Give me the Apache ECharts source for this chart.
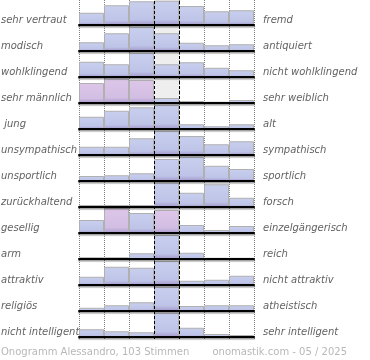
<!DOCTYPE html>
<html><head><meta charset="utf-8">
<script src="https://cdn.jsdelivr.net/npm/echarts@6/dist/echarts.min.js"></script>
<style>html,body{margin:0;padding:0;background:#fff}#c{width:370px;height:360px}</style>
</head><body><div id="c"></div>
<script>
// ---- data ----
const columns = ['1', '2', '3', '4', '5', '6', '7'];
const leftLabels = ['sehr vertraut', 'modisch', 'wohlklingend', 'sehr männlich', ' jung', 'unsympathisch', 'unsportlich', 'zurückhaltend', 'gesellig', 'arm', 'attraktiv', 'religiös', 'nicht intelligent'];
const rightLabels = ['fremd', 'antiquiert', 'nicht wohlklingend', 'sehr weiblich', 'alt', 'sympathisch', 'sportlich', 'forsch', 'einzelgängerisch', 'reich', 'nicht attraktiv', 'atheistisch', 'sehr intelligent'];
const r01 = [49, 79, 95, 97, 76, 55, 59];
const r02 = [35, 71, 97, 71, 33, 23, 27];
const r03 = [61, 51, 97, 51, 59, 37, 27];
const r04 = [80, 98, 92, 20, 8, 5, 12];
const r05 = [49, 73, 87, 97, 19, 11, 19];
const r06 = [33, 33, 67, 97, 76, 43, 55];
const r07 = [20, 23, 31, 88, 97, 61, 48];
const r08 = [8, 8, 8, 98, 57, 91, 37];
const r09 = [52, 100, 80, 92, 32, 12, 28];
const r10 = [7, 7, 23, 96, 25, 5, 5];
const r11 = [33, 73, 69, 96, 17, 21, 37];
const r12 = [13, 23, 35, 97, 20, 23, 23];
const r13 = [31, 23, 19, 97, 37, 12, 8];
const footerLeft = 'Onogramm Alessandro, 103 Stimmen';
const footerRight = 'onomastik.com - 05 / 2025';

// ---- styling / layout ----
const rows = [r01, r02, r03, r04, r05, r06, r07, r08, r09, r10, r11, r12, r13];
const pinkCells = {3: [0, 1, 2], 8: [1, 3]};
const shadedRows = [0, 1, 2, 3];
const PITCH = 26, ROWH = 25, LEFT = 79, W = 175;

function grad(top, mid, bottom) {
  return new echarts.graphic.LinearGradient(0, 0, 0, 1, [
    {offset: 0, color: top}, {offset: 0.78, color: mid}, {offset: 1, color: bottom}
  ]);
}
const blueFill = grad('#c8cfee', '#bec4e7', '#a396ca');
const pinkFill = grad('#ddc6e8', '#d2bee3', '#a99acb');

const grid = [], xAxis = [], yAxis = [], series = [], graphic = [];
rows.forEach((vals, i) => {
  grid.push({left: LEFT, top: i * PITCH, width: W, height: ROWH});
  xAxis.push({
    type: 'category', gridIndex: i, data: columns, z: 6,
    axisLine: {lineStyle: {color: '#000', width: 2, shadowColor: 'rgba(0,0,0,0.4)', shadowOffsetY: 1.5, shadowBlur: 1}},
    axisTick: {show: false}, axisLabel: {show: false}, splitLine: {show: false}
  });
  yAxis.push({type: 'value', gridIndex: i, min: 0, max: 100, show: false});
  if (shadedRows.includes(i)) {
    series.push({
      type: 'bar', xAxisIndex: i, yAxisIndex: i, silent: true, z: 1,
      barCategoryGap: '0%', barGap: '-100%',
      itemStyle: {color: '#eeeeee'},
      data: columns.map((c, j) => j === 3 ? 100 : null)
    });
  }
  const pk = pinkCells[i] || [];
  series.push({
    type: 'bar', xAxisIndex: i, yAxisIndex: i, z: 2,
    barCategoryGap: '0%', barGap: '-100%',
    itemStyle: {color: blueFill, borderColor: '#b0b0b0', borderWidth: 1},
    data: vals.map((v, j) => pk.includes(j) ? {value: v, itemStyle: {color: pinkFill}} : v)
  });
  const cy = 20 + i * PITCH;
  graphic.push({type: 'text', x: 1, y: cy, style: {text: leftLabels[i], fill: '#626262', font: 'italic 10px "DejaVu Sans"', verticalAlign: 'middle', align: 'left'}});
  graphic.push({type: 'text', x: 263, y: cy, style: {text: rightLabels[i], fill: '#626262', font: 'italic 10px "DejaVu Sans"', verticalAlign: 'middle', align: 'left'}});
});

// overall grid for vertical guide lines
const gi = rows.length;
grid.push({left: LEFT, top: 0, width: W, height: 339});
xAxis.push({
  type: 'value', gridIndex: gi, min: 0, max: 7, interval: 1, z: 0,
  axisLine: {show: false}, axisTick: {show: false}, axisLabel: {show: false},
  splitLine: {show: true, lineStyle: {type: [1, 1], color: '#808080', width: 1}}
});
yAxis.push({type: 'value', gridIndex: gi, min: 0, max: 1, show: false});
series.push({
  type: 'line', xAxisIndex: gi, yAxisIndex: gi, data: [], z: 10,
  markLine: {
    silent: true, symbol: 'none', label: {show: false},
    lineStyle: {color: '#000', type: [3, 2], width: 1},
    data: [{xAxis: 3}, {xAxis: 4}]
  }
});

graphic.push({type: 'text', x: 1, y: 352, style: {text: footerLeft, fill: '#b8b8b8', font: '10px "DejaVu Sans"', verticalAlign: 'middle', align: 'left'}});
graphic.push({type: 'text', x: 347, y: 352, style: {text: footerRight, fill: '#b8b8b8', font: '10px "DejaVu Sans"', verticalAlign: 'middle', align: 'right'}});

const chart = echarts.init(document.getElementById('c'), null, {renderer: 'canvas'});
chart.setOption({animation: false, grid, xAxis, yAxis, series, graphic});
</script></body></html>
